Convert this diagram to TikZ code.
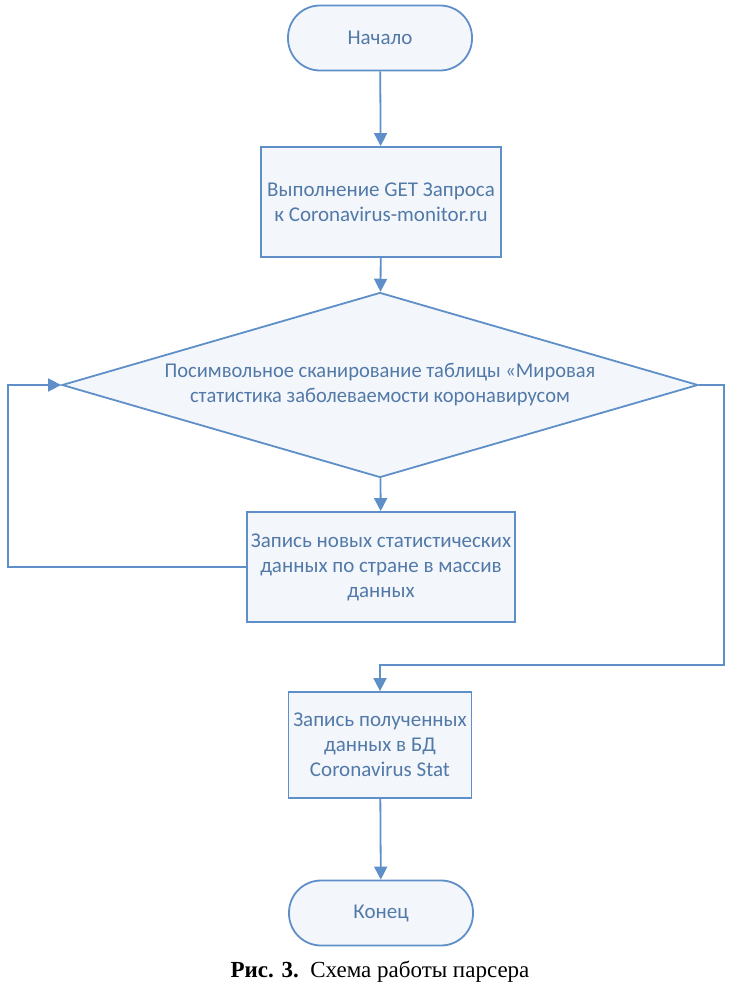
\documentclass[tikz,border=0pt]{standalone}
\usepackage{fontspec}
\setmainfont{Liberation Serif}
\newfontfamily\nodefont{Carlito}
\newfontfamily\condfont[FakeStretch=0.975]{Carlito}
\usetikzlibrary{shapes.geometric,arrows.meta}
\definecolor{lineblue}{HTML}{5F8FC8}
\definecolor{textblue}{HTML}{5279A8}
\definecolor{fillblue}{HTML}{F3F7FC}
\tikzset{
  every node/.style={font=\nodefont\fontsize{21}{25}\selectfont, text=textblue},
  terminal/.style={draw=lineblue, line width=1.8pt, fill=fillblue, rounded corners=32pt, minimum width=184pt, minimum height=65pt, inner sep=0pt},
  procbox/.style={draw=lineblue, line width=1.8pt, fill=fillblue, align=center, inner sep=0pt},
  decision/.style={draw=lineblue, line width=1.8pt, fill=fillblue, diamond, aspect=3.44, minimum width=636pt, minimum height=185pt, inner sep=0pt, align=center, font=\condfont\fontsize{21}{25}\selectfont},
  flow/.style={draw=lineblue, line width=1.8pt, -{Triangle[length=13pt,width=13pt]}},
}
\begin{document}
\begin{tikzpicture}[x=1pt,y=-1pt]
\useasboundingbox (0,0) rectangle (738,987);
\node[terminal] (start) at (380,38) {Начало};
\node[procbox, minimum width=240pt, minimum height=110pt] (get) at (381,202) {Выполнение GET Запроса\\к Coronavirus-monitor.ru};
\node[decision] (scan) at (380,385) {Посимвольное сканирование таблицы «Мировая\\статистика заболеваемости коронавирусом};
\node[procbox, minimum width=268pt, minimum height=110pt] (rec) at (381,567) {Запись новых статистических\\данных по стране в массив\\данных};
\node[procbox, minimum width=183pt, minimum height=106pt] (db) at (380,745) {Запись полученных\\данных в БД\\Coronavirus Stat};
\node[terminal] (end) at (381,913) {Конец};
\coordinate (lb) at (8,567);
\coordinate (rt) at (724,385);
\coordinate (rb) at (724,665);
\draw[flow] (start) -- (get);
\draw[flow] (get) -- (scan);
\draw[flow] (scan) -- (rec);
\draw[flow] (rec.west) -- (lb) |- (scan.west);
\draw[flow] (scan.east) -- (rt) -- (rb) -| (db.north);
\draw[flow] (db) -- (end);
\node[font=\fontsize{23}{26}\selectfont, text=black, anchor=base] (cap) at (380,977) {\textbf{Рис. 3.}\enspace Схема работы парсера};
\end{tikzpicture}
\end{document}
